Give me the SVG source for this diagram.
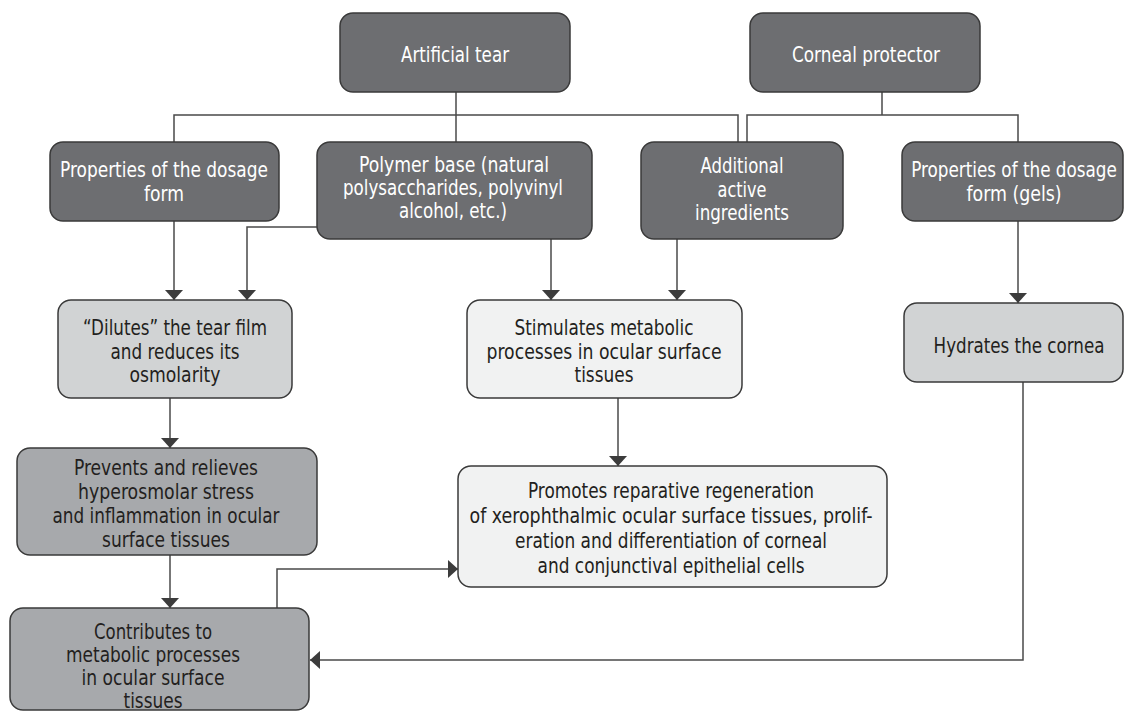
<svg xmlns="http://www.w3.org/2000/svg" width="1126" height="712" viewBox="0 0 1126 712">
<defs>
<style>
.box{stroke:#3a3a3a;stroke-width:1.5}
.dark{fill:#6d6e71}
.mid{fill:#a7a9ac}
.light{fill:#d1d3d4}
.pale{fill:#f1f2f2}
text{font-family:"Liberation Sans Narrow","DejaVu Sans Condensed","DejaVu Sans",sans-serif;font-stretch:condensed;font-size:22px;text-anchor:middle}
.tw{fill:#ffffff}
.tk{fill:#231f20}
.ln{fill:none;stroke:#4a4a4a;stroke-width:1.5}
</style>
<marker id="ah" viewBox="0 0 10 18" refX="10" refY="9" markerWidth="10" markerHeight="18" markerUnits="userSpaceOnUse" orient="auto">
<path d="M0,0 L10,9 L0,18 Z" fill="#3c3c3c"/>
</marker>
</defs>
<rect width="1126" height="712" fill="#ffffff"/>
<g id="connectors">
<path class="ln" d="M456,92 V142"/>
<path class="ln" d="M174,142 V115 H738 V142"/>
<path class="ln" d="M882,92 V115"/>
<path class="ln" d="M747,142 V115 H1018 V142"/>
<path class="ln" d="M174,221 V300" marker-end="url(#ah)"/>
<path class="ln" d="M317,227 H247 V300" marker-end="url(#ah)"/>
<path class="ln" d="M551,239 V300" marker-end="url(#ah)"/>
<path class="ln" d="M677,239 V300" marker-end="url(#ah)"/>
<path class="ln" d="M1018,221 V303" marker-end="url(#ah)"/>
<path class="ln" d="M170,398 V448" marker-end="url(#ah)"/>
<path class="ln" d="M618,398 V466" marker-end="url(#ah)"/>
<path class="ln" d="M170,555 V608" marker-end="url(#ah)"/>
<path class="ln" d="M277,608 V569 H458" marker-end="url(#ah)"/>
<path class="ln" d="M1023,382 V660 H310" marker-end="url(#ah)"/>
</g>
<g id="artificial-tear">
<rect class="box dark" x="340" y="13" width="230" height="79" rx="13"/>
<text class="tw" x="455" y="62" textLength="108" lengthAdjust="spacingAndGlyphs">Artificial tear</text>
</g>
<g id="corneal-protector">
<rect class="box dark" x="750" y="13" width="230" height="79" rx="13"/>
<text class="tw" x="866" y="62" textLength="148" lengthAdjust="spacingAndGlyphs">Corneal protector</text>
</g>
<g id="props-dosage">
<rect class="box dark" x="50" y="142" width="229" height="79" rx="13"/>
<text class="tw" x="164" y="177" textLength="208" lengthAdjust="spacingAndGlyphs">Properties of the dosage</text>
<text class="tw" x="164" y="201" textLength="40" lengthAdjust="spacingAndGlyphs">form</text>
</g>
<g id="polymer-base">
<rect class="box dark" x="317" y="142" width="275" height="97" rx="13"/>
<text class="tw" x="454" y="172" textLength="190" lengthAdjust="spacingAndGlyphs">Polymer base (natural</text>
<text class="tw" x="453" y="195" textLength="220" lengthAdjust="spacingAndGlyphs">polysaccharides, polyvinyl</text>
<text class="tw" x="453" y="218" textLength="108" lengthAdjust="spacingAndGlyphs">alcohol, etc.)</text>
</g>
<g id="additional">
<rect class="box dark" x="641" y="142" width="202" height="97" rx="13"/>
<text class="tw" x="742" y="173" textLength="83" lengthAdjust="spacingAndGlyphs">Additional</text>
<text class="tw" x="742" y="197" textLength="49" lengthAdjust="spacingAndGlyphs">active</text>
<text class="tw" x="742" y="220" textLength="94" lengthAdjust="spacingAndGlyphs">ingredients</text>
</g>
<g id="props-gels">
<rect class="box dark" x="902" y="142" width="221" height="79" rx="13"/>
<g transform="translate(1014,0) scale(0.85,1)">
<text class="tw" x="0" y="177" textLength="242" lengthAdjust="spacingAndGlyphs">Properties of the dosage</text>
<text class="tw" x="0" y="201" textLength="112" lengthAdjust="spacingAndGlyphs">form (gels)</text>
</g>
</g>
<g id="dilutes">
<rect class="box light" x="58" y="300" width="234" height="98" rx="13"/>
<text class="tk" x="175" y="335" textLength="184" lengthAdjust="spacingAndGlyphs">“Dilutes” the tear film</text>
<text class="tk" x="175" y="359" textLength="129" lengthAdjust="spacingAndGlyphs">and reduces its</text>
<text class="tk" x="175" y="382" textLength="91" lengthAdjust="spacingAndGlyphs">osmolarity</text>
</g>
<g id="stimulates">
<rect class="box pale" x="467" y="300" width="275" height="98" rx="13"/>
<text class="tk" x="604" y="335" textLength="179" lengthAdjust="spacingAndGlyphs">Stimulates metabolic</text>
<text class="tk" x="604" y="359" textLength="235" lengthAdjust="spacingAndGlyphs">processes in ocular surface</text>
<text class="tk" x="604" y="382" textLength="59" lengthAdjust="spacingAndGlyphs">tissues</text>
</g>
<g id="hydrates">
<rect class="box light" x="904" y="303" width="219" height="79" rx="13"/>
<g transform="translate(1019,0) scale(0.85,1)">
<text class="tk" x="0" y="353" textLength="201" lengthAdjust="spacingAndGlyphs">Hydrates the cornea</text>
</g>
</g>
<g id="prevents">
<rect class="box mid" x="17" y="448" width="300" height="107" rx="13"/>
<text class="tk" x="166" y="475" textLength="184" lengthAdjust="spacingAndGlyphs">Prevents and relieves</text>
<text class="tk" x="166" y="499" textLength="176" lengthAdjust="spacingAndGlyphs">hyperosmolar stress</text>
<text class="tk" x="166" y="523" textLength="227" lengthAdjust="spacingAndGlyphs">and inflammation in ocular</text>
<text class="tk" x="166" y="547" textLength="128" lengthAdjust="spacingAndGlyphs">surface tissues</text>
</g>
<g id="promotes">
<rect class="box pale" x="458" y="466" width="429" height="121" rx="13"/>
<text class="tk" x="671" y="498" textLength="286" lengthAdjust="spacingAndGlyphs">Promotes reparative regeneration</text>
<text class="tk" x="671" y="523" textLength="403" lengthAdjust="spacingAndGlyphs">of xerophthalmic ocular surface tissues, prolif-</text>
<text class="tk" x="671" y="548" textLength="312" lengthAdjust="spacingAndGlyphs">eration and differentiation of corneal</text>
<text class="tk" x="671" y="573" textLength="267" lengthAdjust="spacingAndGlyphs">and conjunctival epithelial cells</text>
</g>
<g id="contributes">
<rect class="box mid" x="10" y="608" width="299" height="102" rx="13"/>
<text class="tk" x="153" y="639" textLength="118" lengthAdjust="spacingAndGlyphs">Contributes to</text>
<text class="tk" x="153" y="662" textLength="174" lengthAdjust="spacingAndGlyphs">metabolic processes</text>
<text class="tk" x="153" y="685" textLength="143" lengthAdjust="spacingAndGlyphs">in ocular surface</text>
<text class="tk" x="153" y="708" textLength="59" lengthAdjust="spacingAndGlyphs">tissues</text>
</g>
</svg>
